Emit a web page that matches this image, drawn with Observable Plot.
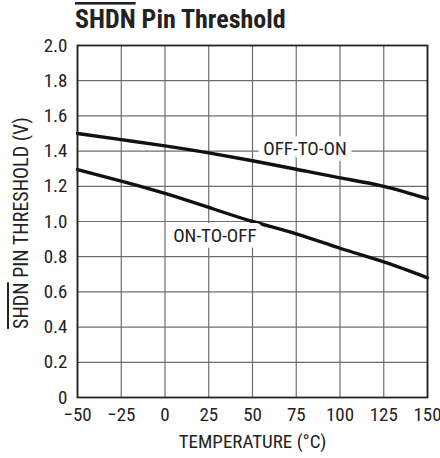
<!DOCTYPE html>
<html>
<head>
<meta charset="utf-8">
<script src="https://cdn.jsdelivr.net/npm/d3@7"></script>
<script src="https://cdn.jsdelivr.net/npm/@observablehq/plot@0.6"></script>
<style>
  html, body { margin: 0; padding: 0; background: #fff; }
  svg text { font-family: Roboto, sans-serif; font-stretch: condensed; }
</style>
</head>
<body>
<div id="chart"></div>
<script>
// Temperature (°C)
const temps = [-50, -25, 0, 25, 50, 75, 100, 125, 150];
// SHDN threshold (V)
const offToOn = [1.50, 1.465, 1.43, 1.39, 1.345, 1.297, 1.248, 1.20, 1.13];
const onToOff = [1.295, 1.23, 1.16, 1.08, 1.00, 0.93, 0.848, 0.77, 0.68];
const seriesNames = ["OFF-TO-ON", "ON-TO-OFF"];
const labelX = [80, 28.5];
const labelY = [1.415, 0.918];
const xTicks = [-50, -25, 0, 25, 50, 75, 100, 125, 150];
const yTicks = [0, 0.2, 0.4, 0.6, 0.8, 1.0, 1.2, 1.4, 1.6, 1.8, 2.0];

const rows = [];
temps.forEach((t, i) => {
  rows.push({series: seriesNames[0], t, v: offToOn[i]});
  rows.push({series: seriesNames[1], t, v: onToOff[i]});
});
const labels = seriesNames.map((s, i) => ({s, x: labelX[i], y: labelY[i]}));

const font = "Roboto, sans-serif";
const fmtX = d => d < 0 ? "\u2212" + Math.abs(d) : String(d);
const fmtY = d => d === 0 ? "0" : d.toFixed(1);

const plot = Plot.plot({
  width: 440,
  height: 458,
  marginLeft: 77,
  marginRight: 13,
  marginTop: 45,
  marginBottom: 61,
  style: {fontFamily: font, background: "#fff"},
  x: {domain: [-50, 150], label: null},
  y: {domain: [0, 2], label: null},
  marks: [
    Plot.gridX(xTicks, {stroke: "#6e6e6e", strokeOpacity: 1, strokeWidth: 1.2}),
    Plot.gridY(yTicks, {stroke: "#6e6e6e", strokeOpacity: 1, strokeWidth: 1.2}),
    Plot.line(rows, {x: "t", y: "v", z: "series", stroke: "#111", strokeWidth: 3.4, curve: "natural"}),
    Plot.text(labels, {x: "x", y: "y", text: "s", fontSize: 19, fill: "#222",
      stroke: "white", strokeWidth: 12, paintOrder: "stroke"}),
    Plot.frame({stroke: "#222", strokeWidth: 1.8}),
    Plot.axisX(xTicks, {tickSize: 0, tickPadding: 10, fontSize: 19, fill: "#222", label: null, tickFormat: fmtX}),
    Plot.axisY(yTicks, {tickSize: 0, tickPadding: 10, fontSize: 19, fill: "#222", label: null, tickFormat: fmtY})
  ]
});
document.getElementById("chart").appendChild(plot);

const svg = d3.select(plot);
// Title
const title = svg.append("text")
  .attr("x", 75).attr("y", 28)
  .attr("text-anchor", "start")
  .attr("font-size", 26).attr("font-weight", "bold").attr("fill", "#222");
title.append("tspan").style("text-decoration", "overline").text("SHDN");
title.append("tspan").text(" Pin Threshold");

// X axis label
svg.append("text")
  .attr("x", 252.5).attr("y", 448)
  .attr("text-anchor", "middle")
  .attr("font-size", 19).attr("fill", "#222")
  .text("TEMPERATURE (°C)");

// Y axis label
const yl = svg.append("text")
  .attr("transform", "translate(28,223) rotate(-90)")
  .attr("text-anchor", "middle")
  .attr("font-size", 20).attr("fill", "#222");
yl.append("tspan").style("text-decoration", "overline").text("SHDN");
yl.append("tspan").text(" PIN THRESHOLD (V)");
</script>
</body>
</html>
